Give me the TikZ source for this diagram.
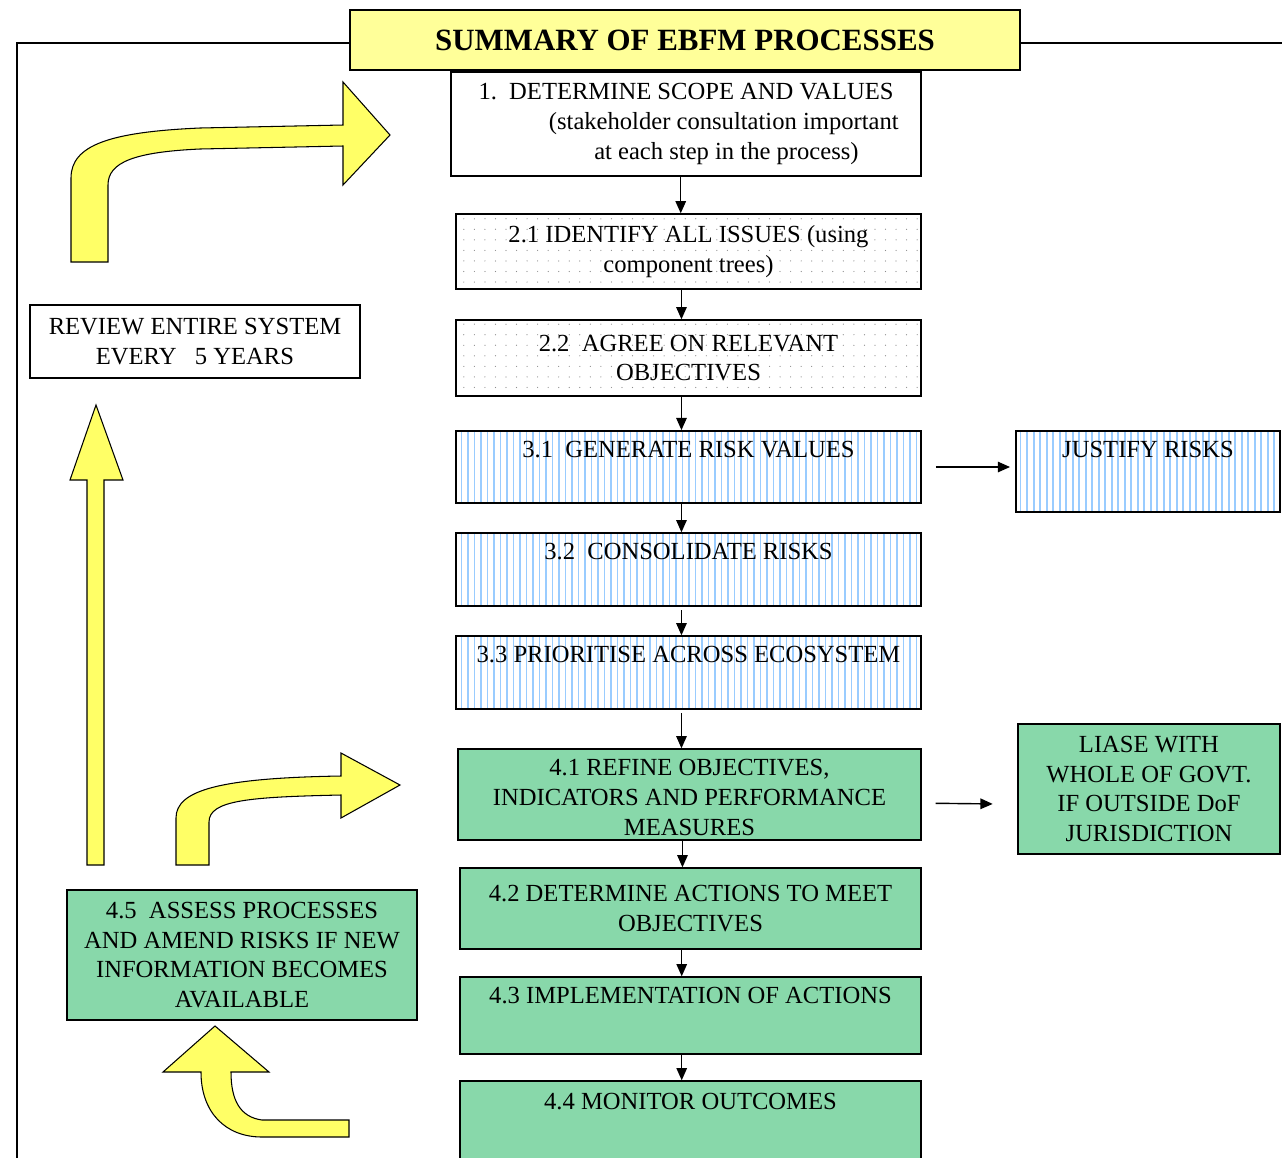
\documentclass[tikz,border=0pt]{standalone}
\usepackage{fontspec}
\setmainfont{Liberation Serif}
\usetikzlibrary{positioning,arrows.meta,patterns.meta}
\definecolor{titleyellow}{RGB}{255,255,153}
\definecolor{arrowyellow}{RGB}{255,255,102}
\definecolor{stagegreen}{RGB}{136,216,170}
\definecolor{stripeblue}{RGB}{153,204,255}

\begin{document}
\begin{tikzpicture}[x=0.02cm, y=-0.02cm,
        stage/.style={rectangle, draw=black, line width=0.8pt, align=center, inner sep=2pt,
            font=\fontsize{14}{17}\selectfont},
        dotbox/.style={stage, pattern={Dots[distance=6pt, radius=0.35pt]}, pattern color=black!45},
        stripebox/.style={stage, pattern={Lines[angle=90, distance=3.7pt, line width=1pt]}, pattern color=stripeblue},
        greenbox/.style={stage, fill=stagegreen},
        txt/.style={align=center, inner sep=0pt, font=\fontsize{14}{17}\selectfont},
        flow/.style={-{Triangle[length=7pt,width=6pt]}, line width=0.8pt},
        bigarrow/.style={draw=black, line width=0.6pt, fill=arrowyellow},
        ]
        \useasboundingbox (0,0) rectangle (1282,1157);

        % title and frame
        \node (title) at (685,40) [stage, fill=titleyellow, line width=1.2pt, minimum width=13.4cm, minimum height=1.2cm,
            font=\fontsize{17.6}{20}\selectfont\bfseries] {SUMMARY OF EBFM PROCESSES};
        \draw[line width=0.8pt] (title.west |- 0,43) -- (17,43) -- (17,1165);
        \draw[line width=0.8pt] (title.east |- 0,43) -- (1290,43);

        % main column
        \node (s1) at (686,124) [stage, fill=white, minimum width=9.4cm, minimum height=2.08cm]
            {1.\ \ DETERMINE SCOPE AND VALUES\\ \hspace*{43pt}(stakeholder consultation important\\ \hspace*{46pt}at each step in the process)};
        \node (s21) at (688.5,251.5) [dotbox, minimum width=9.3cm, minimum height=1.5cm]
            {2.1 IDENTIFY ALL ISSUES (using\\ component trees)};
        \node (s22) at (688.5,358) [dotbox, minimum width=9.3cm, minimum height=1.52cm]
            {2.2\ \ AGREE ON RELEVANT\\ OBJECTIVES};
        \node (s31) at (688.5,467) [stripebox, minimum width=9.3cm, minimum height=1.44cm] {};
        \node (t31) [txt, below=6pt of s31.north] {3.1\ \ GENERATE RISK VALUES};
        \node (s32) at (688.5,569.5) [stripebox, minimum width=9.3cm, minimum height=1.46cm] {};
        \node (t32) [txt, below=6pt of s32.north] {3.2\ \ CONSOLIDATE RISKS};
        \node (s33) at (688.5,672.5) [stripebox, minimum width=9.3cm, minimum height=1.46cm] {};
        \node (t33) [txt, below=6pt of s33.north] {3.3\ PRIORITISE ACROSS ECOSYSTEM};
        \node (s41) at (689.5,794.5) [greenbox, minimum width=9.26cm, minimum height=1.82cm] {};
        \node (t41) [txt, below=6pt of s41.north] {4.1 REFINE OBJECTIVES,\\ INDICATORS AND PERFORMANCE\\ MEASURES};
        \node (s42) at (690.5,908.5) [greenbox, minimum width=9.22cm, minimum height=1.62cm]
            {4.2 DETERMINE ACTIONS TO MEET\\ OBJECTIVES};
        \node (s43) at (690.5,1015.5) [greenbox, minimum width=9.22cm, minimum height=1.54cm] {};
        \node (t43) [txt, below=6pt of s43.north] {4.3 IMPLEMENTATION OF ACTIONS};
        \node (s44) at (690.5,1128) [greenbox, minimum width=9.22cm, minimum height=1.88cm] {};
        \node (t44) [txt, below=7pt of s44.north] {4.4 MONITOR OUTCOMES};

        % side boxes
        \node (justify) at (1148,471.5) [stripebox, minimum width=5.28cm, minimum height=1.62cm] {};
        \node (tjustify) [txt, below=6pt of justify.north] {JUSTIFY RISKS};
        \node (liase) at (1149,789) [greenbox, minimum width=5.24cm, minimum height=2.6cm]
            {LIASE WITH\\ WHOLE OF GOVT.\\ IF OUTSIDE DoF\\ JURISDICTION};
        \node (review) at (195,341.5) [stage, fill=white, minimum width=6.6cm, minimum height=1.46cm]
            {REVIEW ENTIRE SYSTEM\\ EVERY\ \ \ 5 YEARS};
        \node (s45) at (242,955) [greenbox, line width=1.2pt, minimum width=7cm, minimum height=2.6cm]
            {4.5\ \ ASSESS PROCESSES\\ AND AMEND RISKS IF NEW\\ INFORMATION BECOMES\\ AVAILABLE};

        % connectors
        \draw[flow] ([xshift=-3pt]s1.south) -- ([xshift=-3pt]s1.south |- s21.north);
        \draw[flow] ([xshift=-4pt]s21.south) -- ([xshift=-4pt]s21.south |- s22.north);
        \draw[flow] ([xshift=-4pt]s22.south) -- ([xshift=-4pt]s22.south |- s31.north);
        \draw[flow] ([xshift=-4pt]s31.south) -- ([xshift=-4pt]s31.south |- s32.north);
        \draw[flow] ([shift={(-4pt,-2pt)}]s32.south) -- ([xshift=-4pt]s32.south |- s33.north);
        \draw[flow] ([shift={(-4pt,-2pt)}]s33.south) -- ([xshift=-4pt]s33.south |- s41.north);
        \draw[flow] ([xshift=-4pt]s41.south) -- ([xshift=-4pt]s41.south |- s42.north);
        \draw[flow] ([xshift=-5pt]s42.south) -- ([xshift=-5pt]s42.south |- s43.north);
        \draw[flow] ([xshift=-5pt]s43.south) -- ([xshift=-5pt]s43.south |- s44.north);
        \draw[flow] ([xshift=8pt]s31.east) -- ([xshift=-3pt]justify.west |- s31.east);
        \draw[flow] ([shift={(8pt,-5pt)}]s41.east) -- ([shift={(-14pt,-8.5pt)}]liase.west);

        % big yellow arrows
        \draw[bigarrow] (71,262) -- (71,178) .. controls (71,145) and (110,132) .. (200,128) -- (343,125) -- (343,82)
            -- (390,135) -- (343,185) -- (343,146) -- (200,149) .. controls (135,152) and (108,162) .. (108,185) -- (108,262) -- cycle;
        \draw[bigarrow] (87,865) -- (87,480) -- (70,480) -- (96,405) -- (123,480) -- (104,480) -- (104,865) -- cycle;
        \draw[bigarrow] (176,865) -- (176,818) .. controls (176,790) and (220,778) .. (341,776) -- (341,753)
            -- (400,785) -- (341,818) -- (341,795) .. controls (250,797) and (209,800) .. (209,822) -- (209,865) -- cycle;
        \draw[bigarrow] (349,1120) -- (262,1120) .. controls (240,1117) and (231,1100) .. (231,1072) -- (269,1072)
            -- (215,1026) -- (163,1072) -- (201,1072) .. controls (201,1112) and (225,1137) .. (262,1137) -- (349,1137) -- cycle;
\end{tikzpicture}
\end{document}
